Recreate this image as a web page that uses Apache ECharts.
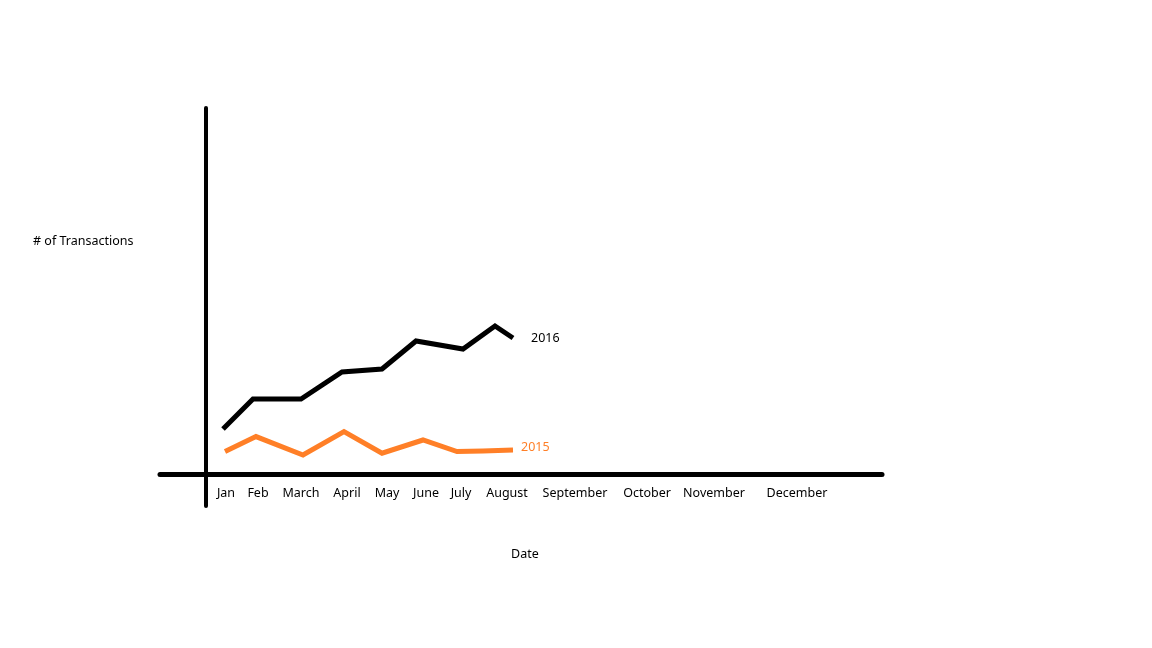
<!DOCTYPE html>
<html>
<head>
<meta charset="utf-8">
<script src="https://cdn.jsdelivr.net/npm/echarts@6/dist/echarts.min.js"></script>
<style>html,body{margin:0;padding:0;background:#fff;}#c{width:1152px;height:648px;}</style>
</head>
<body>
<div id="c"></div>
<script>
// Tick labels (months) and where the hand-drawn labels sit, in months along the x scale
const months = ['Jan','Feb','March','April','May','June','July','August','September','October','November','December'];
const monthLabelPos = [0.5, 1.3, 2.375, 3.525, 4.525, 5.5, 6.375, 7.525, 9.225, 11.025, 12.7, 14.775];

// Series: x in months, y = # of transactions (arbitrary units)
const x2016 = [0.425, 1.175, 2.375, 3.4, 4.4, 5.25, 6.425, 7.225, 7.675];
const y2016 = [225, 375, 375, 510, 525, 665, 625, 740, 680];
const x2015 = [0.475, 1.25, 2.425, 3.45, 4.4, 5.425, 6.275, 6.925, 7.675];
const y2015 = [112, 187, 95, 212, 104, 170, 112, 115, 120];

const FONT = 'Noto Sans';
const pairs = (xs, ys) => xs.map((v, i) => [v, ys[i]]);

const chart = echarts.init(document.getElementById('c'), null, {renderer: 'canvas'});
chart.setOption({
  animation: false,
  backgroundColor: '#ffffff',
  title: [
    {text: '# of Transactions', left: 28, top: 230,
     textStyle: {fontFamily: FONT, fontSize: 12.5, fontWeight: 'normal', color: '#000'}},
    {text: 'Date', left: 506, top: 543,
     textStyle: {fontFamily: FONT, fontSize: 12.5, fontWeight: 'normal', color: '#000'}}
  ],
  grid: {left: 160, right: 270, top: 108, bottom: 142, containLabel: false},
  xAxis: {
    type: 'value', min: -1.15, max: 16.9,
    axisLine: {show: true, onZero: true, lineStyle: {color: '#000', width: 5}},
    axisTick: {show: false},
    splitLine: {show: false},
    axisLabel: {
      show: true, customValues: monthLabelPos, margin: -19,
      fontFamily: FONT, fontSize: 12.5, color: '#000',
      formatter: function (v) {
        let best = 0, d = Infinity;
        monthLabelPos.forEach((p, i) => { if (Math.abs(p - v) < d) { d = Math.abs(p - v); best = i; } });
        return months[best];
      }
    }
  },
  yAxis: {
    type: 'value', min: -160, max: 1830,
    axisLine: {show: true, onZero: true, lineStyle: {color: '#000', width: 4}},
    axisTick: {show: false},
    splitLine: {show: false},
    axisLabel: {show: false}
  },
  series: [
    {
      name: '2016', type: 'line', data: pairs(x2016, y2016), showSymbol: false, symbol: 'none',
      lineStyle: {color: '#000', width: 5, join: 'miter'},
      endLabel: {show: true, formatter: '{a}', color: '#000', fontFamily: FONT, fontSize: 12.5, offset: [10, 0]}
    },
    {
      name: '2015', type: 'line', data: pairs(x2015, y2015), showSymbol: false, symbol: 'none',
      lineStyle: {color: '#FF7F27', width: 5, join: 'miter'},
      endLabel: {show: true, formatter: '{a}', color: '#FF7F27', fontFamily: FONT, fontSize: 12.5, offset: [0, -3]}
    }
  ]
});
</script>
</body>
</html>
